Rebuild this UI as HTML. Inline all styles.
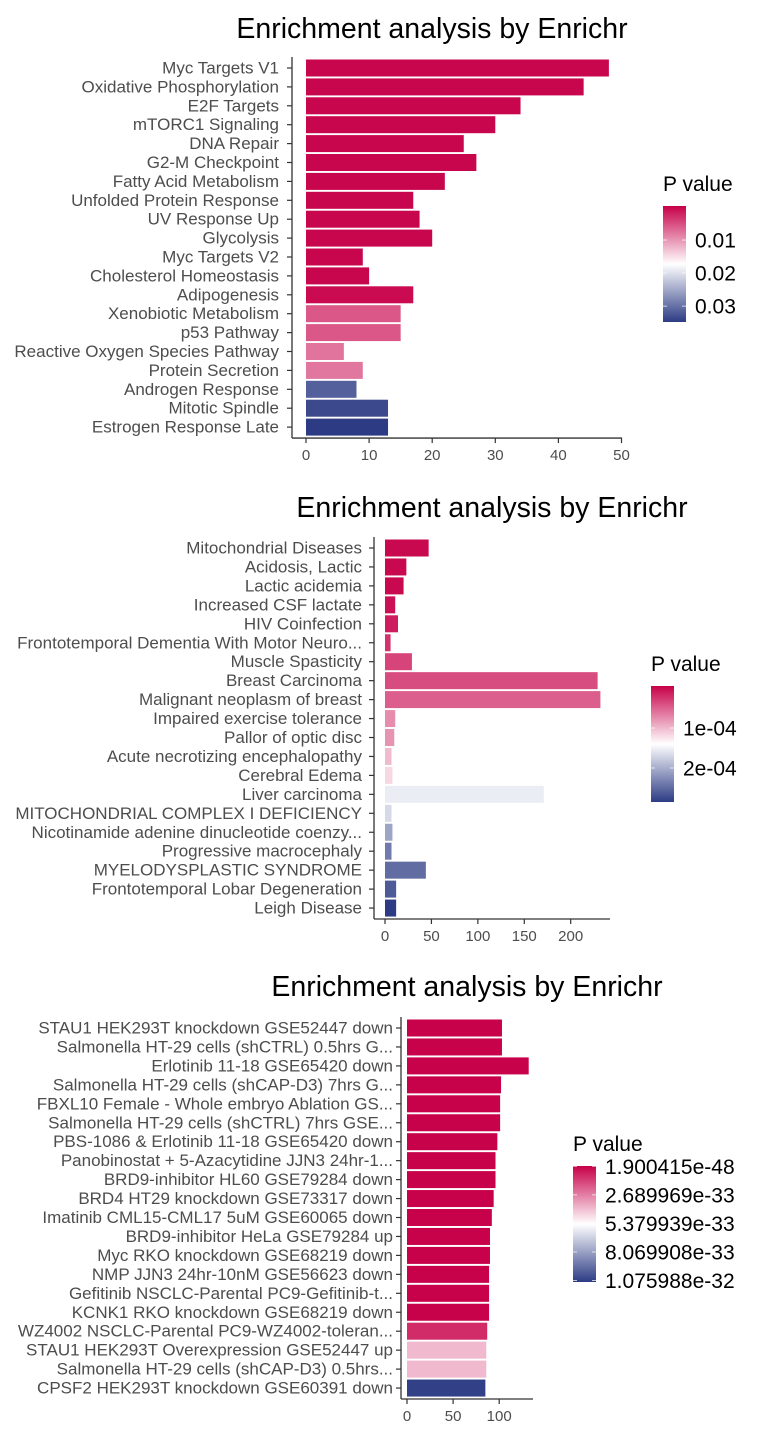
<!DOCTYPE html>
<html><head><meta charset="utf-8">
<style>
html,body{margin:0;padding:0;background:#fff;}
svg{display:block;font-family:"Liberation Sans",Arial,sans-serif;}
</style></head>
<body>
<svg id="root" width="768" height="1440" viewBox="0 0 768 1440">
<defs>
<linearGradient id="grad" x1="0" y1="0" x2="0" y2="1">
<stop offset="0" stop-color="#C70049"/><stop offset="0.5" stop-color="#FFFFFF"/><stop offset="1" stop-color="#2C3B84"/>
</linearGradient>
</defs>
</svg>
<script>
// ---- Chart 1 data ----
const cats1 = ["Myc Targets V1","Oxidative Phosphorylation","E2F Targets","mTORC1 Signaling","DNA Repair","G2-M Checkpoint","Fatty Acid Metabolism","Unfolded Protein Response","UV Response Up","Glycolysis","Myc Targets V2","Cholesterol Homeostasis","Adipogenesis","Xenobiotic Metabolism","p53 Pathway","Reactive Oxygen Species Pathway","Protein Secretion","Androgen Response","Mitotic Spindle","Estrogen Response Late"];
const vals1 = [48,44,34,30,25,27,22,17,18,20,9,10,17,15,15,6,9,8,13,13];
const pvals1 = [0.0001,0.0001,0.0001,0.0001,0.0001,0.0001,0.0001,0.0001,0.0001,0.0001,0.0001,0.0001,0.0005,0.0058,0.0058,0.0078,0.0080,0.0315,0.0335,0.0348];
const xticks1 = [0,10,20,30,40,50];
const legendTicks1 = [0.01,0.02,0.03];
const legendLabels1 = ["0.01","0.02","0.03"];
// ---- Chart 2 data ----
const cats2 = ["Mitochondrial Diseases","Acidosis, Lactic","Lactic acidemia","Increased CSF lactate","HIV Coinfection","Frontotemporal Dementia With Motor Neuro...","Muscle Spasticity","Breast Carcinoma","Malignant neoplasm of breast","Impaired exercise tolerance","Pallor of optic disc","Acute necrotizing encephalopathy","Cerebral Edema","Liver carcinoma","MITOCHONDRIAL COMPLEX I DEFICIENCY","Nicotinamide adenine dinucleotide coenzy...","Progressive macrocephaly","MYELODYSPLASTIC SYNDROME","Frontotemporal Lobar Degeneration","Leigh Disease"];
const vals2 = [47,23,20,11,14,6,29,229,232,11,10,7,8,171,7,8,7,44,12,12];
const pvals2 = [0.0,0.0,0.0,0.05e-4,0.12e-4,0.25e-4,0.35e-4,0.40e-4,0.50e-4,0.78e-4,0.82e-4,1.05e-4,1.22e-4,1.58e-4,1.72e-4,2.1e-4,2.4e-4,2.5e-4,2.62e-4,2.85e-4];
const xticks2 = [0,50,100,150,200];
const legendTicks2 = [1e-4,2e-4];
const legendLabels2 = ["1e-04","2e-04"];
// ---- Chart 3 data (p in units of 1e-33) ----
const cats3 = ["STAU1 HEK293T knockdown GSE52447 down","Salmonella HT-29 cells (shCTRL) 0.5hrs G...","Erlotinib 11-18 GSE65420 down","Salmonella HT-29 cells (shCAP-D3) 7hrs G...","FBXL10 Female - Whole embryo Ablation GS...","Salmonella HT-29 cells (shCTRL) 7hrs GSE...","PBS-1086 & Erlotinib 11-18 GSE65420 down","Panobinostat + 5-Azacytidine JJN3 24hr-1...","BRD9-inhibitor HL60 GSE79284 down","BRD4 HT29 knockdown GSE73317 down","Imatinib CML15-CML17 5uM GSE60065 down","BRD9-inhibitor HeLa GSE79284 up","Myc RKO knockdown GSE68219 down","NMP JJN3 24hr-10nM GSE56623 down","Gefitinib NSCLC-Parental PC9-Gefitinib-t...","KCNK1 RKO knockdown GSE68219 down","WZ4002 NSCLC-Parental PC9-WZ4002-toleran...","STAU1 HEK293T Overexpression GSE52447 up","Salmonella HT-29 cells (shCAP-D3) 0.5hrs...","CPSF2 HEK293T knockdown GSE60391 down"];
const vals3 = [103,103,132,102,101,101,98,96,96,94,92,90,90,89,89,89,87,86,86,85];
const pvals3 = [0,0,0,0,0,0,0,0,0,0,0,0,0,0,0,0,0.9,3.9,3.9,10.76];
const xticks3 = [0,50,100];
const legendTicks3 = [0,2.689969,5.379939,8.069908,10.75988];
const legendLabels3 = ["1.900415e-48","2.689969e-33","5.379939e-33","8.069908e-33","1.075988e-32"];

const NS="http://www.w3.org/2000/svg";
const svg=document.getElementById('root');
function mk(tag,attrs,parent){const e=document.createElementNS(NS,tag);for(const k in attrs)e.setAttribute(k,attrs[k]);(parent||svg).appendChild(e);return e;}
function hex(c){return [parseInt(c.slice(1,3),16),parseInt(c.slice(3,5),16),parseInt(c.slice(5,7),16)];}
const RED=hex("#C70049"),WHITE=[255,255,255],BLUE=hex("#2C3B84");
function mix(a,b,t){return 'rgb('+a.map((v,i)=>Math.round(v+(b[i]-v)*t)).join(',')+')';}
function colorFor(p,pmin,pmid,pmax){
  if(p<=pmid){return mix(RED,WHITE,Math.max(0,(p-pmin)/(pmid-pmin)));}
  return mix(WHITE,BLUE,Math.min(1,(p-pmid)/(pmax-pmid)));
}

function chart(o){
  const g=mk('g',{});
  
  
  const t=mk('text',{x:o.titleX,y:o.titleY,'font-size':28.5,'text-anchor':'middle',fill:'#000'},g);
  t.textContent="Enrichment analysis by Enrichr";
  
  
  const xs=v=>o.x0+v*o.pxPerUnit;
  const ys=i=>o.yFirst+i*o.step;
  const n=o.cats.length;
  o.cats.forEach((c,i)=>{
    const r=mk('rect',{x:xs(0),y:ys(i)-o.barH/2,width:xs(o.vals[i])-xs(0),height:o.barH,fill:colorFor(o.pvals[i],o.pmin,o.pmid,o.pmax)},g);
    
    
    const l=mk('text',{x:o.axisX-o.labGap,y:ys(i)+5.5,'font-size':o.labSize,'text-anchor':'end',fill:'#4D4D4D'},g);
    l.textContent=c;
    
    
    mk('line',{x1:o.axisX-5,x2:o.axisX,y1:ys(i),y2:ys(i),stroke:'#333','stroke-width':1.2},g);
  });
  const bottom=ys(n-1)+o.step/2+1.5;
  const top=ys(0)-o.step/2-1.5;
  const ya=mk('line',{x1:o.axisX,x2:o.axisX,y1:top,y2:bottom,stroke:'#333','stroke-width':1.3},g);
  
  
  const xa=mk('line',{x1:o.axisX,x2:o.axisEnd,y1:bottom,y2:bottom,stroke:'#333','stroke-width':1.3},g);
  
  
  o.xticks.forEach(v=>{
    mk('line',{x1:xs(v),x2:xs(v),y1:bottom,y2:bottom+5,stroke:'#333','stroke-width':1.2},g);
    const tl=mk('text',{x:xs(v),y:bottom+22,'font-size':15,'text-anchor':'middle',fill:'#4D4D4D'},g);
    tl.textContent=String(v);
    
    
  });
  const lg=mk('g',{},g);
  
  
  const lt=mk('text',{x:o.legX,y:o.legY-15,'font-size':21,fill:'#000'},lg);
  lt.textContent="P value";
  
  
  const H=116,W=23;
  const gr=mk('rect',{x:o.legX,y:o.legY,width:W,height:H,fill:'url(#grad)'},lg);
  
  
  const lgY=p=>o.legY+(p-o.pmin)/(o.pmax-o.pmin)*H;
  o.legendTicks.forEach((p,i)=>{
    const yy=lgY(p);
    mk('line',{x1:o.legX,x2:o.legX+4,y1:yy,y2:yy,stroke:'#fff','stroke-width':1,'stroke-opacity':0.7},lg);
    mk('line',{x1:o.legX+W-4,x2:o.legX+W,y1:yy,y2:yy,stroke:'#fff','stroke-width':1,'stroke-opacity':0.7},lg);
    const tx=mk('text',{x:o.legX+W+9,y:yy+7.5,'font-size':21,fill:'#000'},lg);
    tx.textContent=o.legendLabels[i];
    
    
  });
}

chart({name:'chart-hallmark',cats:cats1,vals:vals1,pvals:pvals1,xticks:xticks1,legendTicks:legendTicks1,legendLabels:legendLabels1,
  titleX:432,titleY:38,x0:306,pxPerUnit:6.31,axisX:292,axisEnd:622,yFirst:68,step:18.9,barH:17,labSize:17,labGap:13,
  pmin:-0.0003,pmid:0.0175,pmax:0.0348,legX:663,legY:206});
chart({name:'chart-disease',cats:cats2,vals:vals2,pvals:pvals2,xticks:xticks2,legendTicks:legendTicks2,legendLabels:legendLabels2,
  titleX:492,titleY:517,x0:385,pxPerUnit:0.9285,axisX:374,axisEnd:610,yFirst:548,step:18.95,barH:17,labSize:17,labGap:12,
  pmin:-0.05e-4,pmid:1.45e-4,pmax:2.85e-4,legX:651,legY:686});
chart({name:'chart-signatures',cats:cats3,vals:vals3,pvals:pvals3,xticks:xticks3,legendTicks:legendTicks3,legendLabels:legendLabels3,
  titleX:467,titleY:996,x0:407,pxPerUnit:0.922,axisX:401,axisEnd:533,yFirst:1028,step:18.95,barH:17,labSize:17,labGap:8,
  pmin:-0.03,pmid:5.38,pmax:10.9,legX:573,legY:1166});
</script>
</body></html>
